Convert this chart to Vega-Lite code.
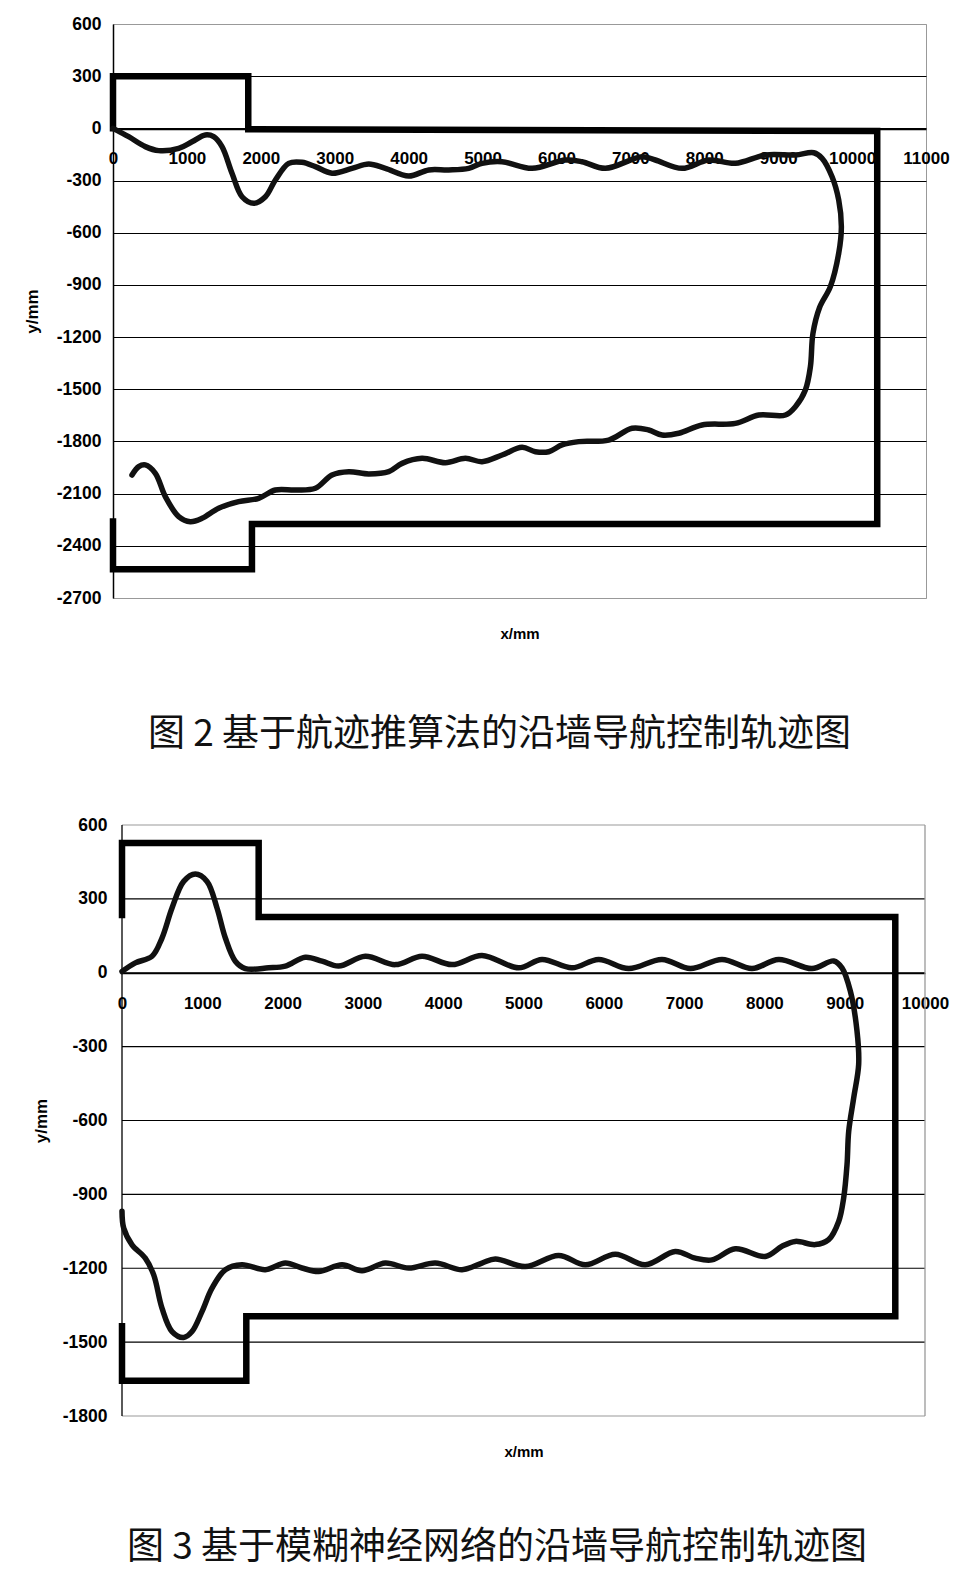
{
  "$schema": "https://vega.github.io/schema/vega-lite/v6.json",
  "padding": {"left": 22, "top": 14, "right": 0, "bottom": 14},
  "background": "white",
  "spacing": 62,
  "config": {
    "view": {"stroke": "#999999", "strokeWidth": 1},
    "font": "Liberation Sans",
    "axis": {"labelFont": "Liberation Sans", "titleFont": "Liberation Sans"}
  },
  "datasets": {
    "w1": [
      {"i": 0, "x": 0, "y": 0}, {"i": 1, "x": 0, "y": 300}, {"i": 2, "x": 1830, "y": 300},
      {"i": 3, "x": 1830, "y": -5}, {"i": 4, "x": 10340, "y": -15}, {"i": 5, "x": 10340, "y": -2275},
      {"i": 6, "x": 1880, "y": -2275}, {"i": 7, "x": 1880, "y": -2535}, {"i": 8, "x": 0, "y": -2535},
      {"i": 9, "x": 0, "y": -2260}
    ],
    "p1": [
      {"i": 0, "x": 0, "y": 0}, {"i": 1, "x": 212, "y": -48}, {"i": 2, "x": 437, "y": -105},
      {"i": 3, "x": 618, "y": -128}, {"i": 4, "x": 889, "y": -115}, {"i": 5, "x": 1069, "y": -77},
      {"i": 6, "x": 1249, "y": -38}, {"i": 7, "x": 1362, "y": -48}, {"i": 8, "x": 1475, "y": -105},
      {"i": 9, "x": 1610, "y": -258}, {"i": 10, "x": 1746, "y": -393}, {"i": 11, "x": 1904, "y": -431},
      {"i": 12, "x": 2062, "y": -393}, {"i": 13, "x": 2197, "y": -297}, {"i": 14, "x": 2377, "y": -201},
      {"i": 15, "x": 2557, "y": -195}, {"i": 16, "x": 2738, "y": -220}, {"i": 17, "x": 2963, "y": -258},
      {"i": 18, "x": 3234, "y": -230}, {"i": 19, "x": 3460, "y": -205}, {"i": 20, "x": 3685, "y": -230},
      {"i": 21, "x": 4001, "y": -274}, {"i": 22, "x": 4272, "y": -239}, {"i": 23, "x": 4543, "y": -239},
      {"i": 24, "x": 4813, "y": -230}, {"i": 25, "x": 4993, "y": -201}, {"i": 26, "x": 5264, "y": -192},
      {"i": 27, "x": 5670, "y": -230}, {"i": 28, "x": 6121, "y": -182}, {"i": 29, "x": 6346, "y": -192},
      {"i": 30, "x": 6662, "y": -230}, {"i": 31, "x": 7158, "y": -163}, {"i": 32, "x": 7338, "y": -182},
      {"i": 33, "x": 7700, "y": -230}, {"i": 34, "x": 8060, "y": -182}, {"i": 35, "x": 8421, "y": -201},
      {"i": 36, "x": 8827, "y": -153}, {"i": 37, "x": 9233, "y": -153}, {"i": 38, "x": 9481, "y": -140},
      {"i": 39, "x": 9594, "y": -172}, {"i": 40, "x": 9729, "y": -278}, {"i": 41, "x": 9819, "y": -412},
      {"i": 42, "x": 9855, "y": -565}, {"i": 43, "x": 9819, "y": -718}, {"i": 44, "x": 9706, "y": -910},
      {"i": 45, "x": 9560, "y": -1030}, {"i": 46, "x": 9470, "y": -1180},
      {"i": 48, "x": 9436, "y": -1370}, {"i": 49, "x": 9368, "y": -1504}, {"i": 50, "x": 9233, "y": -1600},
      {"i": 51, "x": 9098, "y": -1648}, {"i": 52, "x": 8737, "y": -1648}, {"i": 53, "x": 8421, "y": -1696},
      {"i": 54, "x": 7970, "y": -1705}, {"i": 55, "x": 7655, "y": -1753}, {"i": 56, "x": 7429, "y": -1763},
      {"i": 57, "x": 7249, "y": -1734}, {"i": 58, "x": 7023, "y": -1724}, {"i": 59, "x": 6707, "y": -1792},
      {"i": 60, "x": 6301, "y": -1801}, {"i": 61, "x": 6076, "y": -1820}, {"i": 62, "x": 5896, "y": -1859},
      {"i": 63, "x": 5715, "y": -1859}, {"i": 64, "x": 5535, "y": -1834}, {"i": 65, "x": 5264, "y": -1878},
      {"i": 66, "x": 4993, "y": -1916}, {"i": 67, "x": 4768, "y": -1897}, {"i": 68, "x": 4498, "y": -1922},
      {"i": 69, "x": 4181, "y": -1897}, {"i": 70, "x": 3911, "y": -1926}, {"i": 71, "x": 3731, "y": -1974},
      {"i": 72, "x": 3460, "y": -1987}, {"i": 73, "x": 3190, "y": -1974}, {"i": 74, "x": 2963, "y": -1993},
      {"i": 75, "x": 2738, "y": -2069}, {"i": 76, "x": 2467, "y": -2079}, {"i": 77, "x": 2197, "y": -2079},
      {"i": 78, "x": 1971, "y": -2127}, {"i": 79, "x": 1700, "y": -2146}, {"i": 80, "x": 1429, "y": -2184},
      {"i": 81, "x": 1204, "y": -2242}, {"i": 82, "x": 1046, "y": -2261}, {"i": 83, "x": 889, "y": -2232},
      {"i": 84, "x": 708, "y": -2117}, {"i": 85, "x": 573, "y": -1983}, {"i": 86, "x": 437, "y": -1935},
      {"i": 87, "x": 348, "y": -1945}, {"i": 88, "x": 257, "y": -1993}
    ],
    "g2": [
      {"y": 600}, {"y": 300}, {"y": 0}, {"y": -300}, {"y": -600}, {"y": -900}, {"y": -1200}, {"y": -1500}, {"y": -1800}
    ],
    "e2": [
      {"x": 0}, {"x": 10000}
    ],
    "w2": [
      {"i": 0, "x": 0, "y": 235}, {"i": 1, "x": 0, "y": 527}, {"i": 2, "x": 1702, "y": 527},
      {"i": 3, "x": 1702, "y": 226}, {"i": 4, "x": 9630, "y": 226}, {"i": 5, "x": 9630, "y": -1395},
      {"i": 6, "x": 1548, "y": -1395}, {"i": 7, "x": 1548, "y": -1657}, {"i": 8, "x": 0, "y": -1657},
      {"i": 9, "x": 0, "y": -1436}
    ],
    "p2": [
      {"i": 0, "x": 0, "y": 5}, {"i": 1, "x": 166, "y": 40}, {"i": 2, "x": 374, "y": 67},
      {"i": 3, "x": 498, "y": 141}, {"i": 4, "x": 623, "y": 263}, {"i": 5, "x": 768, "y": 371},
      {"i": 6, "x": 913, "y": 401}, {"i": 7, "x": 1059, "y": 371}, {"i": 8, "x": 1183, "y": 263},
      {"i": 9, "x": 1287, "y": 141}, {"i": 10, "x": 1411, "y": 47}, {"i": 11, "x": 1536, "y": 17},
      {"i": 12, "x": 1826, "y": 20}, {"i": 13, "x": 2034, "y": 27}, {"i": 14, "x": 2283, "y": 63},
      {"i": 15, "x": 2491, "y": 47}, {"i": 16, "x": 2698, "y": 27}, {"i": 17, "x": 3030, "y": 67},
      {"i": 18, "x": 3404, "y": 33}, {"i": 19, "x": 3736, "y": 67}, {"i": 20, "x": 4110, "y": 33},
      {"i": 21, "x": 4483, "y": 70}, {"i": 22, "x": 4940, "y": 20}, {"i": 23, "x": 5230, "y": 54},
      {"i": 24, "x": 5604, "y": 20}, {"i": 25, "x": 5936, "y": 54}, {"i": 26, "x": 6310, "y": 17},
      {"i": 27, "x": 6725, "y": 54}, {"i": 28, "x": 7078, "y": 17}, {"i": 29, "x": 7472, "y": 54},
      {"i": 30, "x": 7846, "y": 17}, {"i": 31, "x": 8178, "y": 54}, {"i": 32, "x": 8593, "y": 17},
      {"i": 33, "x": 8863, "y": 48}, {"i": 34, "x": 8966, "y": 20}, {"i": 35, "x": 9070, "y": -74},
      {"i": 36, "x": 9153, "y": -236}, {"i": 37, "x": 9174, "y": -372}, {"i": 38, "x": 9112, "y": -508},
      {"i": 39, "x": 9050, "y": -644}, {"i": 40, "x": 9029, "y": -779}, {"i": 41, "x": 8987, "y": -915},
      {"i": 42, "x": 8925, "y": -1010}, {"i": 43, "x": 8800, "y": -1084}, {"i": 44, "x": 8634, "y": -1104},
      {"i": 45, "x": 8385, "y": -1091}, {"i": 46, "x": 8219, "y": -1111}, {"i": 47, "x": 8011, "y": -1152},
      {"i": 48, "x": 7638, "y": -1121}, {"i": 49, "x": 7347, "y": -1166}, {"i": 50, "x": 7139, "y": -1159},
      {"i": 51, "x": 6890, "y": -1132}, {"i": 52, "x": 6517, "y": -1186}, {"i": 53, "x": 6144, "y": -1143},
      {"i": 54, "x": 5770, "y": -1186}, {"i": 55, "x": 5438, "y": -1148}, {"i": 56, "x": 5023, "y": -1193},
      {"i": 57, "x": 4649, "y": -1162}, {"i": 58, "x": 4483, "y": -1179}, {"i": 59, "x": 4234, "y": -1206},
      {"i": 60, "x": 3902, "y": -1179}, {"i": 61, "x": 3570, "y": -1199}, {"i": 62, "x": 3279, "y": -1179},
      {"i": 63, "x": 2989, "y": -1210}, {"i": 64, "x": 2740, "y": -1186}, {"i": 65, "x": 2449, "y": -1213},
      {"i": 66, "x": 2242, "y": -1199}, {"i": 67, "x": 2034, "y": -1179}, {"i": 68, "x": 1785, "y": -1206},
      {"i": 69, "x": 1494, "y": -1186}, {"i": 70, "x": 1287, "y": -1206}, {"i": 71, "x": 1121, "y": -1281},
      {"i": 72, "x": 996, "y": -1376}, {"i": 73, "x": 872, "y": -1457}, {"i": 74, "x": 768, "y": -1481},
      {"i": 75, "x": 623, "y": -1457}, {"i": 76, "x": 498, "y": -1362}, {"i": 77, "x": 395, "y": -1227},
      {"i": 78, "x": 290, "y": -1159}, {"i": 79, "x": 125, "y": -1105}, {"i": 80, "x": 21, "y": -1037},
      {"i": 81, "x": 0, "y": -969}
    ]
  },
  "vconcat": [
    {
      "width": 813,
      "height": 574,
      "title": {"text": "图 2 基于航迹推算法的沿墙导航控制轨迹图", "orient": "bottom", "anchor": "middle", "offset": 76, "dx": -20, "font": "Noto Sans CJK SC", "fontSize": 37, "fontWeight": "normal", "color": "#111111"},
      "layer": [
        {
          "data": {"name": "w1"},
          "mark": {"type": "line", "color": "#000000", "strokeWidth": 6.5, "strokeJoin": "miter", "strokeCap": "square"},
          "encoding": {
            "x": {"field": "x", "type": "quantitative", "scale": {"domain": [0, 11000], "nice": false, "zero": false},
              "axis": {"orient": "bottom", "offset": -469, "values": [0, 1000, 2000, 3000, 4000, 5000, 6000, 7000, 8000, 9000, 10000, 11000], "labelExpr": "datum.value + ''", "labelFontSize": 17, "labelFontWeight": "bold", "labelColor": "#000000", "labelPadding": 21, "labelFlush": false, "labelOverlap": false, "ticks": false, "domain": true, "domainColor": "#000000", "domainWidth": 1.5, "grid": false, "title": null}},
            "y": {"field": "y", "type": "quantitative", "scale": {"domain": [-2700, 600], "nice": false, "zero": false},
              "axis": {"orient": "left", "values": [600, 300, 0, -300, -600, -900, -1200, -1500, -1800, -2100, -2400, -2700], "labelExpr": "datum.value + ''", "labelFontSize": 17.5, "labelFontWeight": "bold", "labelColor": "#000000", "labelPadding": 12, "labelOverlap": false, "ticks": false, "domain": true, "domainColor": "#000000", "domainWidth": 1.5, "grid": true, "gridColor": {"condition": {"test": "datum.value == 600 || datum.value == -2700", "value": "#999999"}, "value": "#000000"}, "gridWidth": 1.2, "gridOpacity": 1, "title": "y/mm", "titleFontSize": 17, "titleFontWeight": "bold", "titleColor": "#000000", "titlePadding": 11, "minExtent": 61, "maxExtent": 61}},
            "order": {"field": "i", "type": "quantitative"}
          }
        },
        {
          "data": {"name": "p1"},
          "mark": {"type": "line", "color": "#111111", "strokeWidth": 5.5, "interpolate": "catmull-rom", "strokeJoin": "round", "strokeCap": "round"},
          "encoding": {
            "x": {"field": "x", "type": "quantitative", "scale": {"domain": [0, 11000], "nice": false, "zero": false},
              "axis": {"orient": "bottom", "labels": false, "ticks": false, "domain": false, "grid": false, "title": "x/mm", "titleFontSize": 15, "titleFontWeight": "bold", "titleColor": "#000000", "titlePadding": 28}},
            "y": {"field": "y", "type": "quantitative"},
            "order": {"field": "i", "type": "quantitative"}
          }
        }
      ],
      "resolve": {"axis": {"x": "independent"}}
    },
    {
      "width": 812,
      "height": 591,
      "view": {"stroke": null},
      "title": {"text": "图  3  基于模糊神经网络的沿墙导航控制轨迹图", "orient": "bottom", "anchor": "middle", "offset": 71, "dx": -22, "font": "Noto Sans CJK SC", "fontSize": 37, "fontWeight": "normal", "color": "#111111"},
      "layer": [
        {
          "data": {"name": "g2"},
          "mark": {"type": "rule", "strokeWidth": 1.2},
          "encoding": {
            "y": {"field": "y", "type": "quantitative"},
            "x": {"datum": 0, "type": "quantitative", "axis": null},
            "x2": {"datum": 10000},
            "color": {"condition": {"test": "datum.y == 600 || datum.y == -1800", "value": "#999999"}, "value": "#000000"}
          }
        },
        {
          "data": {"name": "e2"},
          "mark": {"type": "rule", "strokeWidth": 1.3},
          "encoding": {
            "x": {"field": "x", "type": "quantitative", "axis": null},
            "y": {"datum": -1800, "type": "quantitative"},
            "y2": {"datum": 600},
            "color": {"condition": {"test": "datum.x == 0", "value": "#000000"}, "value": "#999999"}
          }
        },
        {
          "data": {"name": "w2"},
          "mark": {"type": "line", "color": "#000000", "strokeWidth": 6.5, "strokeJoin": "miter", "strokeCap": "square"},
          "encoding": {
            "x": {"field": "x", "type": "quantitative", "scale": {"domain": [0, 10000], "range": [9, 812], "nice": false, "zero": false},
              "axis": {"orient": "bottom", "offset": -443, "values": [0, 1000, 2000, 3000, 4000, 5000, 6000, 7000, 8000, 9000, 10000], "labelExpr": "datum.value + ''", "labelFontSize": 17, "labelFontWeight": "bold", "labelColor": "#000000", "labelPadding": 22, "labelFlush": false, "labelOverlap": false, "ticks": false, "domain": true, "domainColor": "#000000", "domainWidth": 1.5, "grid": false, "title": null}},
            "y": {"field": "y", "type": "quantitative", "scale": {"domain": [-1800, 600], "nice": false, "zero": false},
              "axis": {"orient": "left", "values": [600, 300, 0, -300, -600, -900, -1200, -1500, -1800], "labelExpr": "datum.value + ''", "labelFontSize": 17.5, "labelFontWeight": "bold", "labelColor": "#000000", "labelPadding": 6, "labelOverlap": false, "ticks": false, "domain": false, "grid": false, "title": "y/mm", "titleFontSize": 17, "titleFontWeight": "bold", "titleColor": "#000000", "titlePadding": 2, "minExtent": 61, "maxExtent": 61}},
            "order": {"field": "i", "type": "quantitative"}
          }
        },
        {
          "data": {"name": "p2"},
          "mark": {"type": "line", "color": "#111111", "strokeWidth": 5.5, "interpolate": "catmull-rom", "strokeJoin": "round", "strokeCap": "round"},
          "encoding": {
            "x": {"field": "x", "type": "quantitative",
              "axis": {"orient": "bottom", "labels": false, "ticks": false, "domain": false, "grid": false, "title": "x/mm", "titleFontSize": 15, "titleFontWeight": "bold", "titleColor": "#000000", "titlePadding": 28}},
            "y": {"field": "y", "type": "quantitative"},
            "order": {"field": "i", "type": "quantitative"}
          }
        }
      ],
      "resolve": {"axis": {"x": "independent"}}
    }
  ]
}
